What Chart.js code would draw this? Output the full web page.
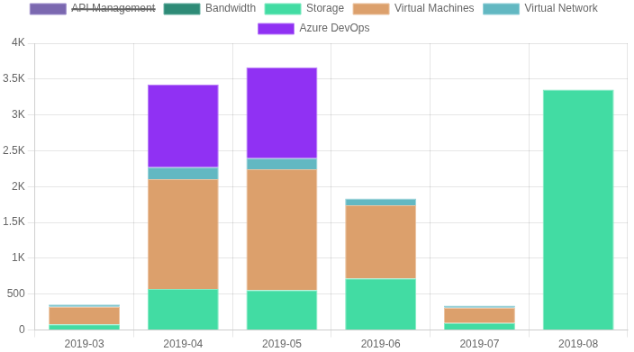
<!DOCTYPE html>
<html><head><meta charset="utf-8">
<script src="https://cdn.jsdelivr.net/npm/chart.js@4"></script>
<style>html,body{margin:0;padding:0;background:#fff;overflow:hidden}#c{display:block;width:634px;height:352px}</style>
</head><body><canvas id="c" width="704" height="391" style="width:634px;height:352px"></canvas>
<script>
const months = ["2019-03","2019-04","2019-05","2019-06","2019-07","2019-08"];
const apiManagement = [5, 10, 10, 5, 5, 0];
const bandwidth = [0, 0, 0, 0, 0, 0];
const storage = [80, 571, 557, 720, 98, 3354];
const virtualMachines = [243, 1534, 1684, 1020, 215, 0];
const virtualNetwork = [32, 165, 155, 94, 28, 0];
const azureDevOps = [0, 1155, 1267, 0, 0, 0];
const yTicks = [0,500,1000,1500,2000,2500,3000,3500,4000];

function ds(label, data, bg, border, hidden){
  return {label, data, backgroundColor: bg, borderColor: border, borderWidth: 1, hidden: !!hidden};
}
Chart.defaults.font.family = "'Liberation Sans', Arial, sans-serif";
Chart.defaults.font.size = 12;
Chart.defaults.color = '#666';
new Chart(document.getElementById('c'), {
  type: 'bar',
  data: {
    labels: months,
    datasets: [
      ds('API Management', apiManagement, 'rgba(123,104,176,1)', 'rgba(160,145,205,1)', true),
      ds('Bandwidth', bandwidth, 'rgba(46,139,119,1)', 'rgba(100,175,160,1)'),
      ds('Storage', storage, 'rgba(66,220,163,1)', 'rgba(130,235,195,1)'),
      ds('Virtual Machines', virtualMachines, 'rgba(220,160,108,1)', 'rgba(235,195,160,1)'),
      ds('Virtual Network', virtualNetwork, 'rgba(98,184,194,1)', 'rgba(150,210,218,1)'),
      ds('Azure DevOps', azureDevOps, 'rgba(144,49,243,1)', 'rgba(185,125,248,1)')
    ]
  },
  options: {
    responsive: false, maintainAspectRatio: false, animation: false, devicePixelRatio: 1,
    layout: {padding: {left: 0, right: 7, top: -6, bottom: 0}},
    plugins: {
      legend: {position: 'top', labels: {boxWidth: 40, boxHeight: 12, padding: 10}},
      tooltip: {enabled: false}
    },
    scales: {
      x: {stacked: true, grid: {color: 'rgba(0,0,0,0.1)', offset: true}, ticks: {color: '#666', padding: 1}},
      y: {stacked: true, min: 0, max: 4000,
        grid: {color: 'rgba(0,0,0,0.1)'},
        afterBuildTicks: s => { s.ticks = yTicks.map(v => ({value: v})); },
        ticks: {color: '#666', callback: v => v >= 1000 ? (v/1000) + 'K' : v}
      }
    }
  }
});
</script></body></html>
